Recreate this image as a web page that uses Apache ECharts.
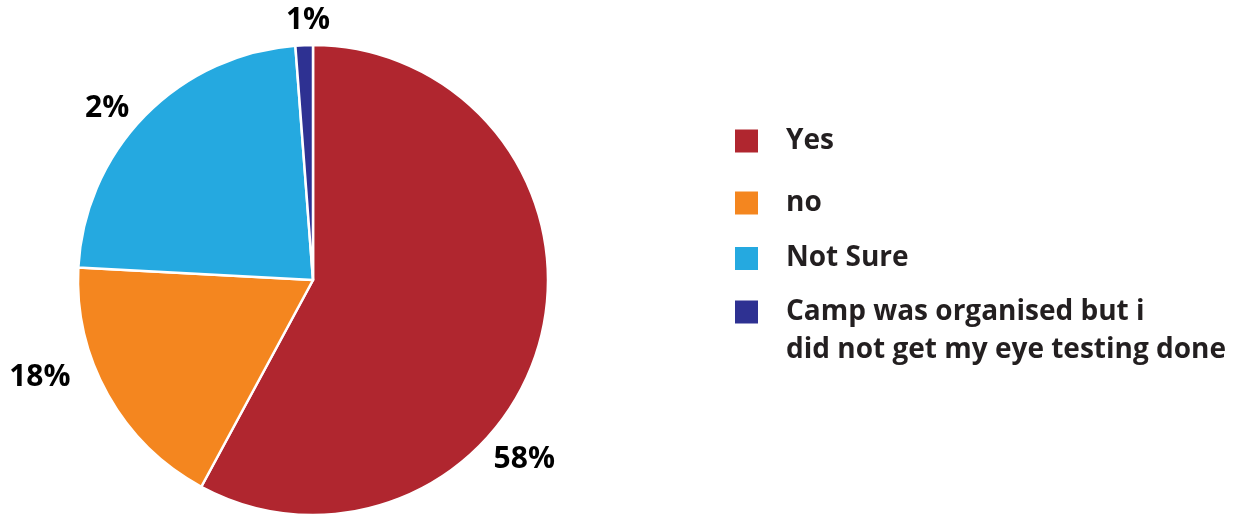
<!DOCTYPE html>
<html>
<head>
<meta charset="utf-8">
<script src="https://cdn.jsdelivr.net/npm/echarts@6/dist/echarts.min.js"></script>
<style>
html, body { margin: 0; padding: 0; background: #fff; }
#chart { width: 1241px; height: 515px; }
</style>
</head>
<body>
<div id="chart"></div>
<script>
// answers and their shares
const categories = ['Yes', 'no', 'Not Sure', 'Camp was organised but i\ndid not get my eye testing done']
const values = [58, 18, 23, 1.2]
// the printed labels (as shown in the source, incl. its "2%")
const pctLabels = ['58%', '18%', '2%', '1%']

const colors = ['#B0262F', '#F4861F', '#25A9E0', '#2E3192']

const chart = echarts.init(document.getElementById('chart'))

const center = [313, 280]
const radius = 235
// label spots: angle from 12 o'clock (clockwise, deg) and distance from centre
const labelSpots = [[130.3, 277], [250.4, 290], [309.8, 268], [358.9, 260]]

// legend rows — gaps differ a little, so one legend per row
const legendTops = [127, 189, 244.5, 255]

const legendText = { color: '#231F20', fontFamily: 'Open Sans', fontWeight: 'bold', fontSize: 28 }

const legends = categories.map((name, i) => {
  const multi = name.indexOf('\n') >= 0
  return {
    data: [name],
    orient: 'vertical',
    left: 733,
    top: legendTops[i],
    padding: 0,
    icon: 'rect',
    itemWidth: 25,
    itemHeight: 25,
    selectedMode: false,
    // blank first line keeps the first text row level with the square
    formatter: multi ? n => '\n' + n : '{name}',
    textStyle: Object.assign({}, legendText, {
      lineHeight: multi ? 38 : 25,
      padding: [0, 0, 0, 22]
    })
  }
})

chart.setOption({
  animation: false,
  color: colors,
  legend: legends,
  series: [
    {
      type: 'pie',
      center: center,
      radius: radius,
      startAngle: 90,
      clockwise: true,
      itemStyle: { borderColor: '#fff', borderWidth: 2.5 },
      label: {
        show: true,
        position: 'outside',
        overflow: 'none',
        formatter: p => pctLabels[p.dataIndex],
        color: '#000',
        fontFamily: 'Open Sans',
        fontWeight: 'bold',
        fontSize: 30
      },
      labelLine: { show: false },
      labelLayout: p => {
        const [ang, dist] = labelSpots[p.dataIndex]
        const a = ang * Math.PI / 180
        return {
          x: center[0] + Math.sin(a) * dist,
          y: center[1] - Math.cos(a) * dist,
          align: 'center',
          verticalAlign: 'middle'
        }
      },
      emphasis: { disabled: true },
      data: categories.map((name, i) => ({ name: name, value: values[i] }))
    }
  ]
})
</script>
</body>
</html>
